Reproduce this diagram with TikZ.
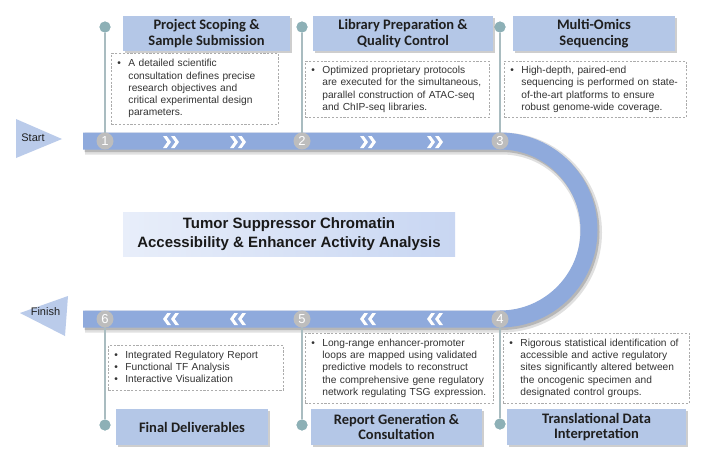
\documentclass[tikz,border=0pt]{standalone}
\usepackage{fontspec}
\setmainfont{Liberation Sans}
\newfontfamily\hdfont{Carlito}
\usetikzlibrary{shadows}
\definecolor{trackc}{HTML}{8FAADC}
\definecolor{hdfill}{HTML}{B4C7E7}
\definecolor{dotc}{HTML}{8DB0B6}
\definecolor{linec}{HTML}{A9BCC0}
\definecolor{numc}{HTML}{BDBDBD}
\definecolor{txtc}{HTML}{333333}
\definecolor{arrfill}{HTML}{BACBEA}
\newcommand\bul{\makebox[11pt][l]{\textbullet}}
\begin{document}
\begin{tikzpicture}[x=1pt,y=-1pt,
  hd/.style={fill=hdfill, draw=none,
    drop shadow={shadow xshift=1.5pt, shadow yshift=-1.5pt, opacity=.35, fill=black!55},
    minimum height=35pt, inner sep=2pt, align=center,
    font=\hdfont\bfseries\fontsize{14.5}{15.5}\selectfont, text=black!88},
  desc/.style={draw=gray!65, dash pattern=on 2.2pt off 1.6pt, line width=0.8pt, fill=white,
    inner xsep=6pt, inner ysep=2pt, anchor=north west, align=left,
    font=\fontsize{10.2}{12.3}\selectfont, text=txtc},
  conn/.style={draw=linec, line width=1.3pt},
  dotn/.style={circle, fill=dotc, minimum size=11pt, inner sep=0pt},
  numn/.style={circle, fill=numc, minimum size=17pt, inner sep=0pt, text=white,
    font=\fontsize{13}{13}\selectfont},
  chevR/.pic={
    \fill[white] (-8,-6)--(-4.3,-6)--(0,0)--(-4.3,6)--(-8,6)--(-3.7,0)--cycle;
    \fill[white] (0,-6)--(3.7,-6)--(8,0)--(3.7,6)--(0,6)--(4.3,0)--cycle;},
  chevL/.pic={
    \begin{scope}[xscale=-1]
    \fill[white] (-8,-6)--(-4.3,-6)--(0,0)--(-4.3,6)--(-8,6)--(-3.7,0)--cycle;
    \fill[white] (0,-6)--(3.7,-6)--(8,0)--(3.7,6)--(0,6)--(4.3,0)--cycle;
    \end{scope}},
  lbl/.style={font=\fontsize{11}{11}\selectfont, text=black!88, inner sep=0pt}
]
\useasboundingbox[fill=white] (0,0) rectangle (723,459);

% track with shadow
\draw[black, opacity=.12, line width=22pt, xshift=2pt, yshift=-2.5pt]
  (83,141) -- (500,141) arc[start angle=90, end angle=-90, radius=89pt] -- (83,319);
\draw[black, opacity=.18, line width=18pt, xshift=1.5pt, yshift=-2pt]
  (83,141) -- (500,141) arc[start angle=90, end angle=-90, radius=89pt] -- (83,319);
\draw[trackc, line width=17pt]
  (83,141) -- (500,141) arc[start angle=90, end angle=-90, radius=89pt] -- (83,319);

% chevrons
\pic at (171,142) {chevR};
\pic at (238,142) {chevR};
\pic at (368,142) {chevR};
\pic at (435,142) {chevR};
\pic at (171,319) {chevL};
\pic at (238,319) {chevL};
\pic at (368,319) {chevL};
\pic at (435,319) {chevL};

% start / finish
\fill[arrfill] (16,119) -- (62,139) -- (16,158) -- cycle;
\node[lbl] (start) at (33,138) {Start};
\fill[arrfill] (68,296) -- (20,313) -- (65,336) -- cycle;
\node[lbl] (finish) at (45.5,312) {Finish};

% dots
\node[dotn] (p1) at (105,27) {};
\node[dotn] (p2) at (302,27) {};
\node[dotn] (p3) at (500,27) {};
\node[dotn] (p6) at (105,425) {};
\node[dotn] (p5) at (302,425) {};
\node[dotn] (p4) at (500,424) {};

% number circles (coordinates first for connectors)
\coordinate (c1) at (105,141);
\coordinate (c2) at (302,141);
\coordinate (c3) at (500,141);
\coordinate (c6) at (105,319);
\coordinate (c5) at (302,319);
\coordinate (c4) at (500,319);
\draw[conn] (p1) -- (c1);
\draw[conn] (p2) -- (c2);
\draw[conn] (p3) -- (c3);
\draw[conn] (c6) -- (p6);
\draw[conn] (c5) -- (p5);
\draw[conn] (c4) -- (p4);
\node[numn] (n1) at (c1) {1};
\node[numn] (n2) at (c2) {2};
\node[numn] (n3) at (c3) {3};
\node[numn] (n6) at (c6) {6};
\node[numn] (n5) at (c5) {5};
\node[numn] (n4) at (c4) {4};
\node[dotn] at (p1) {};
\node[dotn] at (p2) {};
\node[dotn] at (p3) {};
\node[dotn] at (p6) {};
\node[dotn] at (p5) {};
\node[dotn] at (p4) {};

% title boxes
\node[hd, minimum width=167pt] (t1) at (206.5,33.5) {Project Scoping \&\\Sample Submission};
\node[hd, minimum width=180pt] (t2) at (403,33.5) {Library Preparation \&\\Quality Control};
\node[hd, minimum width=162pt] (t3) at (594,33.5) {Multi-Omics\\Sequencing};
\node[hd, minimum width=152pt, minimum height=36pt] (t6) at (192,427) {Final Deliverables};
\node[hd, minimum width=171pt, minimum height=36pt] (t5) at (396.5,427) {Report Generation \&\\Consultation};
\node[hd, minimum width=179pt, minimum height=36pt] (t4) at (596.5,427) {Translational Data\\Interpretation};

% description boxes
\node[desc, minimum width=167pt, minimum height=71pt, text width=155pt] (d1) at (111,53)
 {\begin{tabular}{@{}l@{}l@{}}\bul & A detailed scientific\\ & consultation defines precise\\ & research objectives and\\ & critical experimental design\\ & parameters.\end{tabular}};
\node[desc, minimum width=184pt, minimum height=56pt, text width=172pt] (d2) at (305,61)
 {\begin{tabular}{@{}l@{}l@{}}\bul & Optimized proprietary protocols\\ & are executed for the simultaneous,\\ & parallel construction of ATAC-seq\\ & and ChIP-seq libraries.\end{tabular}};
\node[desc, minimum width=182pt, minimum height=56pt, text width=170pt] (d3) at (504,61)
 {\begin{tabular}{@{}l@{}l@{}}\bul & High-depth, paired-end\\ & sequencing is performed on state-\\ & of-the-art platforms to ensure\\ & robust genome-wide coverage.\end{tabular}};
\node[desc, minimum width=175pt, minimum height=45pt, text width=163pt] (d6) at (108,345)
 {\begin{tabular}{@{}l@{}l@{}}\bul & Integrated Regulatory Report\\ \bul & Functional TF Analysis\\ \bul & Interactive Visualization\end{tabular}};
\node[desc, minimum width=188pt, minimum height=70pt, text width=176pt] (d5) at (305,333)
 {\begin{tabular}{@{}l@{}l@{}}\bul & Long-range enhancer-promoter\\ & loops are mapped using validated\\ & predictive models to reconstruct\\ & the comprehensive gene regulatory\\ & network regulating TSG expression.\end{tabular}};
\node[desc, minimum width=186pt, minimum height=70pt, text width=174pt] (d4) at (503,333)
 {\begin{tabular}{@{}l@{}l@{}}\bul & Rigorous statistical identification of\\ & accessible and active regulatory\\ & sites significantly altered between\\ & the oncogenic specimen and\\ & designated control groups.\end{tabular}};

% center title
\node[left color={rgb,255:red,232;green,238;blue,250}, right color={rgb,255:red,200;green,214;blue,242},
  minimum width=332pt, minimum height=44pt, align=center, inner sep=0pt,
  font=\bfseries\fontsize{15}{19}\selectfont, text=black!90] (title) at (289,234)
  {Tumor Suppressor Chromatin\\Accessibility \& Enhancer Activity Analysis};
\end{tikzpicture}
\end{document}
